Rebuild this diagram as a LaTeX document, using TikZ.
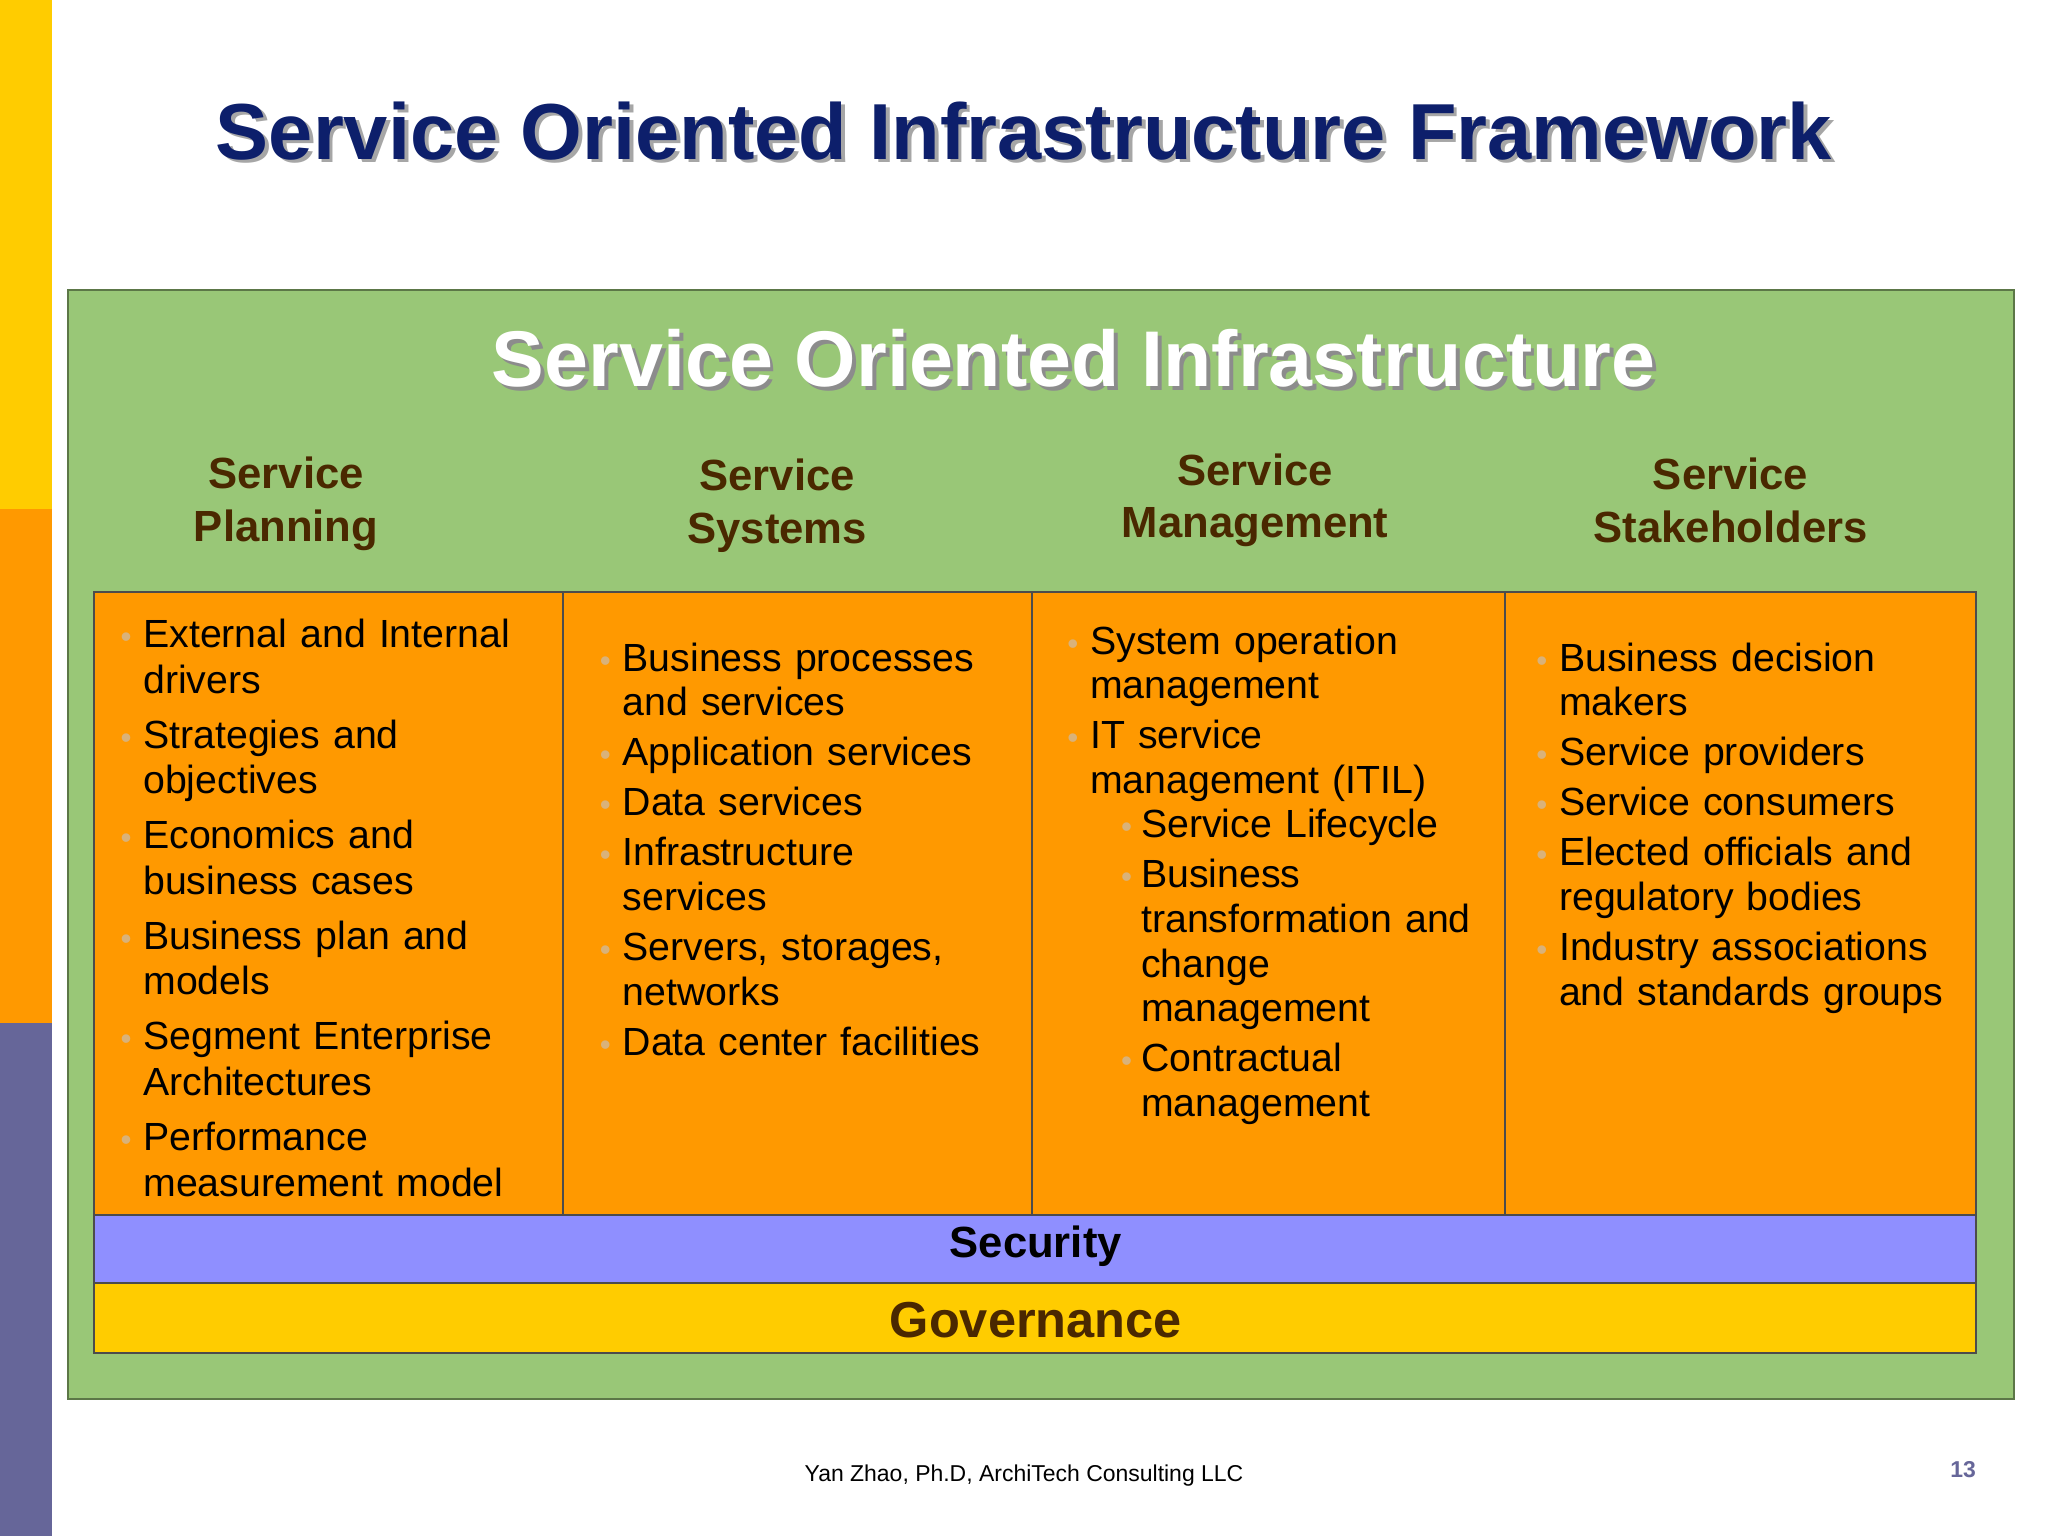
\documentclass[tikz,border=0pt]{standalone}
\usepackage{fontspec}
\setmainfont{Liberation Sans}
\usepackage{enumitem}
\definecolor{navy}{HTML}{0D1F6B}
\definecolor{bggreen}{HTML}{99C777}
\definecolor{boxorange}{HTML}{FF9900}
\definecolor{secblue}{HTML}{8F8FFF}
\definecolor{govyellow}{HTML}{FFCC00}
\definecolor{headbrown}{HTML}{4A2800}
\definecolor{bulgray}{HTML}{D9B27A}
\definecolor{barpurple}{HTML}{666699}
\definecolor{pnum}{HTML}{666699}
\setlist[itemize,1]{label=\textcolor{bulgray}{\scalebox{0.8}{\textbullet}},leftmargin=0.37cm,labelsep=0.09cm,nosep,itemsep=2pt}
\setlist[itemize,2]{label=\textcolor{bulgray}{\scalebox{0.8}{\textbullet}},leftmargin=0.39cm,labelsep=0.07cm,nosep,itemsep=1.2pt}
\begin{document}
\begin{tikzpicture}[x=0.01cm,y=-0.01cm,
  col/.style={draw=black!70,fill=boxorange,line width=0.4pt},
  head/.style={align=center,font=\fontsize{9.5}{11.5}\selectfont\bfseries,text=headbrown},
  body/.style={anchor=north west,inner sep=0pt,text width=3.4cm,font=\fontsize{8.55}{9.95}\selectfont,text=black},
  tight/.style={font=\fontsize{8.55}{9.7}\selectfont}]
\useasboundingbox (0,0) rectangle (1568,1176);
\fill[white] (0,0) rectangle (1568,1176);
\fill[govyellow] (0,0) rectangle (40,390);
\fill[boxorange] (0,390) rectangle (40,783);
\fill[barpurple] (0,783) rectangle (40,1176);
\node[font=\fontsize{17.3}{20}\selectfont\bfseries,text=black!35] at (787,103) {Service Oriented Infrastructure Framework};
\node (title) [font=\fontsize{17.3}{20}\selectfont\bfseries,text=navy] at (784,100) {Service Oriented Infrastructure Framework};
\draw[bggreen!60!black,fill=bggreen] (52,222) rectangle (1542,1071);
\node[font=\fontsize{17.2}{19}\selectfont\bfseries,text=black!45] at (825,277) {Service Oriented Infrastructure};
\node (sub) [font=\fontsize{17.2}{19}\selectfont\bfseries,text=white] at (822,274) {Service Oriented Infrastructure};
\node (h1) [head] at (219,386) {Service\\Planning};
\node (h2) [head] at (595,387) {Service\\Systems};
\node (h3) [head] at (961,383) {Service\\Management};
\node (h4) [head] at (1325,383) {Service\\Stakeholders};
\draw[col] (72,453) rectangle (431,930);
\draw[col] (431,453) rectangle (790,930);
\draw[col] (790,453) rectangle (1152,930);
\draw[col] (1152,453) rectangle (1513,930);
\node (c1) [body] at (72,460) {\begin{itemize}
\item External and Internal drivers
\item Strategies and objectives
\item Economics and business cases
\item Business plan and models
\item Segment Enterprise Architectures
\item Performance measurement model
\end{itemize}};
\node (c2) [body,tight,text width=3.2cm] at (439,479) {\begin{itemize}[itemsep=1.2pt]
\item Business processes and services
\item Application services
\item Data services
\item Infrastructure services
\item Servers, storages, networks
\item Data center facilities
\end{itemize}};
\node (c3) [body,tight,text width=3.5cm] at (797,466) {\begin{itemize}[itemsep=1.2pt]
\item System operation management
\item IT service management (ITIL)
\begin{itemize}
\item Service Lifecycle
\item Business transformation and change management
\item Contractual management
\end{itemize}
\end{itemize}};
\node (c4) [body,tight,text width=3.45cm] at (1156,479) {\begin{itemize}[itemsep=1.2pt]
\item Business decision makers
\item Service providers
\item Service consumers
\item Elected officials and regulatory bodies
\item Industry associations and standards groups
\end{itemize}};
\draw[black!70,fill=secblue] (72,930) rectangle (1513,982);
\node (sec) [font=\fontsize{9.5}{11}\selectfont\bfseries] at (793,954) {Security};
\draw[black!70,fill=govyellow] (72,982) rectangle (1513,1036);
\node (gov) [font=\fontsize{11}{13}\selectfont\bfseries,text=headbrown] at (793,1011) {Governance};
\node (foot) [font=\fontsize{5}{6}\selectfont] at (784,1130) {Yan Zhao, Ph.D, ArchiTech Consulting LLC};
\node (pg) [font=\fontsize{5}{6}\selectfont\bfseries,text=pnum] at (1503,1125) {13};
\end{tikzpicture}
\end{document}
